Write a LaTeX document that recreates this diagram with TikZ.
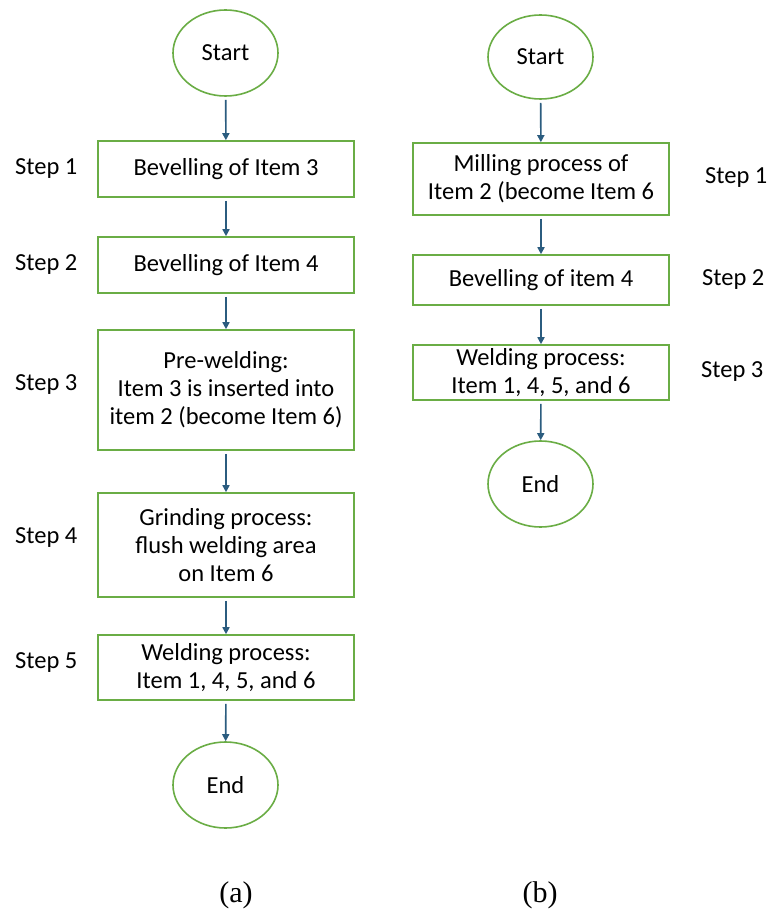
\documentclass[tikz,border=0pt]{standalone}
\usepackage{fontspec}
\setmainfont{Carlito}
\newfontfamily\capfont{Liberation Serif}
\usetikzlibrary{shapes.geometric,arrows.meta}
\definecolor{boxgreen}{HTML}{6AAD45}
\definecolor{arrowblue}{HTML}{2B5C7F}
\tikzset{
  txt/.style={font=\fontsize{24.5}{28}\selectfont, text=black},
  procbox/.style={txt, draw=boxgreen, line width=1.6pt, rectangle, inner sep=0pt, minimum width=256pt, align=center},
  term/.style={txt, draw=boxgreen, line width=1.6pt, ellipse, inner sep=0pt, minimum width=105pt, minimum height=86pt},
  steplbl/.style={txt, anchor=west, inner sep=0pt},
  flow/.style={draw=arrowblue, line width=1.6pt, -{Triangle[length=7pt,width=7pt]}, shorten <=3pt},
  caplbl/.style={font=\capfont\fontsize{30}{34}\selectfont, inner sep=0pt}
}
\begin{document}
\begin{tikzpicture}[x=1pt,y=-1pt]
\useasboundingbox[fill=white] (0,0) rectangle (767,920);
% left flowchart (a)
\node[term] (aS) at (225.5,53) {Start};
\node[procbox, minimum height=56pt] (a1) at (226,169) {Bevelling of Item 3};
\node[procbox, minimum height=56pt] (a2) at (226,265) {Bevelling of Item 4};
\node[procbox, minimum height=120pt] (a3) at (226,390) {Pre-welding:\\Item 3 is inserted into\\item 2 (become Item 6)};
\node[procbox, minimum height=104pt] (a4) at (226,545) {Grinding process:\\flush welding area\\on Item 6};
\node[procbox, minimum height=65pt] (a5) at (226,667.5) {Welding process:\\Item 1, 4, 5, and 6};
\node[term] (aE) at (225.5,785) {End};
\node[steplbl] (s1) at (15,169) {Step 1};
\node[steplbl] (s2) at (15,265) {Step 2};
\node[steplbl] (s3) at (15,385) {Step 3};
\node[steplbl] (s4) at (15,538) {Step 4};
\node[steplbl] (s5) at (15,663) {Step 5};
\draw[flow] (aS) -- (a1);
\draw[flow] (a1) -- (a2);
\draw[flow] (a2) -- (a3);
\draw[flow] (a3) -- (a4);
\draw[flow] (a4) -- (a5);
\draw[flow] (a5) -- (aE);
% right flowchart (b)
\node[term, minimum height=84pt] (bS) at (540.5,57) {Start};
\node[procbox, minimum height=72pt] (b1) at (541,179) {Milling process of\\Item 2 (become Item 6};
\node[procbox, minimum height=50pt] (b2) at (541,280) {Bevelling of item 4};
\node[procbox, minimum height=55pt] (b3) at (541,372.5) {Welding process:\\Item 1, 4, 5, and 6};
\node[term] (bE) at (540.5,484) {End};
\node[steplbl] (t1) at (705,178) {Step 1};
\node[steplbl] (t2) at (702,280) {Step 2};
\node[steplbl] (t3) at (701,372) {Step 3};
\draw[flow] (bS) -- (b1);
\draw[flow] (b1) -- (b2);
\draw[flow] (b2) -- (b3);
\draw[flow] (b3) -- (bE);
% captions
\node[caplbl] (capa) at (236,895) {(a)};
\node[caplbl] (capb) at (540,895) {(b)};
\end{tikzpicture}
\end{document}
